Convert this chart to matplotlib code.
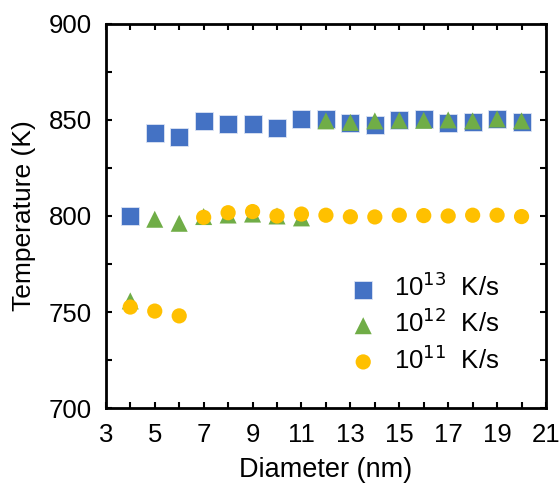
import matplotlib.pyplot as plt
from matplotlib.ticker import MultipleLocator, FixedLocator

plt.rcParams["font.family"] = ["Liberation Sans", "DejaVu Sans"]

diameter = list(range(4, 21))

temp_1e13 = [800, 843, 841, 849.6, 848, 848, 846, 850.4, 850.4, 848.4, 847.2,
             850, 850.5, 848.5, 849, 850.5, 848.8]
temp_1e12 = [755.8, 798.3, 796.2, 799.7, 800.5, 801, 800, 799, 849.5, 848.7,
             849.5, 849.8, 849.8, 850, 849.5, 850.5, 849.5]
temp_1e11 = [752.6, 750.5, 748, 799.3, 801.7, 802.3, 800, 801, 800.4, 799.6,
             799.5, 800.4, 800.2, 800, 800.4, 800.4, 799.7]

labels = ["10$^{13}$  K/s", "10$^{12}$  K/s", "10$^{11}$  K/s"]

fig = plt.figure(figsize=(5.6, 4.87), dpi=100)
ax = fig.add_axes([0.189, 0.162, 0.786, 0.789])

ax.scatter(diameter, temp_1e13, marker="s", s=150, color="#4472C4",
           edgecolor="#dce4f4", linewidth=0.6, label=labels[0], zorder=3)
ax.scatter(diameter, temp_1e12, marker="^", s=150, color="#70AD47",
           edgecolor="none", label=labels[1], zorder=4)
ax.scatter(diameter, temp_1e11, marker="o", s=120, color="#FFC000",
           edgecolor="none", label=labels[2], zorder=5)

ax.set_xlim(3, 21)
ax.set_ylim(700, 900)
ax.xaxis.set_major_locator(FixedLocator(range(3, 22, 2)))
ax.xaxis.set_minor_locator(FixedLocator(range(4, 21, 2)))
ax.yaxis.set_major_locator(MultipleLocator(50))
ax.yaxis.set_minor_locator(MultipleLocator(25))
ax.tick_params(which="both", direction="in", top=True, right=True,
               length=4, width=1.5, labelsize=18.5)
ax.tick_params(axis="x", pad=11)
ax.tick_params(axis="y", pad=10)

for spine in ax.spines.values():
    spine.set_linewidth(2)

ax.set_xlabel("Diameter (nm)", fontsize=19.5, labelpad=7)
ax.set_ylabel("Temperature (K)", fontsize=19, labelpad=9)

ax.legend(loc="upper left", bbox_to_anchor=(0.503, 0.379), frameon=False,
          fontsize=18.5, handletextpad=0.2, labelspacing=0.3,
          borderaxespad=0)

fig.savefig("out.png", dpi=100)
